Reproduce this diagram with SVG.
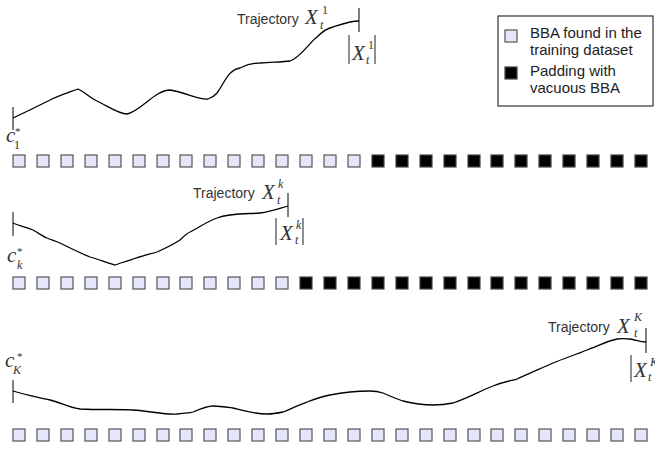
<svg xmlns="http://www.w3.org/2000/svg" xmlns:xlink="http://www.w3.org/1999/xlink" width="655" height="452" viewBox="0 0 655 452">
<style>
.lbl{font-family:"Liberation Sans",Arial,sans-serif;font-size:14px;fill:#333}
.leg{font-family:"Liberation Sans",Arial,sans-serif;font-size:15px;fill:#222}
.m{font-family:"Liberation Serif","Times New Roman",serif;font-style:italic;fill:#333;font-size:21px}
.sm{font-size:12px}
.st{font-size:11px;font-style:normal}
.up{font-style:normal}
.tr{fill:none;stroke:#000;stroke-width:1.3}
.tick{stroke:#555;stroke-width:1.5}
.bar{stroke:#444;stroke-width:1.2}
</style>
<defs>
<rect id="L" width="12" height="12" fill="#e6e6fa" stroke="#555" stroke-width="1.2"/>
<rect id="B" width="12" height="12" fill="#000" stroke="#444" stroke-width="1.2"/>
</defs>

<g id="legend">
<rect x="498" y="16" width="155" height="90" fill="#fff" stroke="#333" stroke-width="1.2"/>
<use xlink:href="#L" x="505" y="30"/>
<use xlink:href="#B" x="505" y="67"/>
<text class="leg" x="530" y="38">BBA found in the</text>
<text class="leg" x="530" y="55">training dataset</text>
<text class="leg" x="530" y="76">Padding with</text>
<text class="leg" x="530" y="93">vacuous BBA</text>
</g>

<g id="row1">
<use xlink:href="#L" x="13" y="155"/><use xlink:href="#L" x="37" y="155"/><use xlink:href="#L" x="61" y="155"/><use xlink:href="#L" x="85" y="155"/><use xlink:href="#L" x="109" y="155"/><use xlink:href="#L" x="133" y="155"/><use xlink:href="#L" x="157" y="155"/><use xlink:href="#L" x="180" y="155"/><use xlink:href="#L" x="204" y="155"/><use xlink:href="#L" x="228" y="155"/><use xlink:href="#L" x="252" y="155"/><use xlink:href="#L" x="276" y="155"/><use xlink:href="#L" x="300" y="155"/><use xlink:href="#L" x="324" y="155"/><use xlink:href="#L" x="348" y="155"/>
<use xlink:href="#B" x="372" y="155"/><use xlink:href="#B" x="396" y="155"/><use xlink:href="#B" x="420" y="155"/><use xlink:href="#B" x="444" y="155"/><use xlink:href="#B" x="468" y="155"/><use xlink:href="#B" x="491" y="155"/><use xlink:href="#B" x="515" y="155"/><use xlink:href="#B" x="539" y="155"/><use xlink:href="#B" x="563" y="155"/><use xlink:href="#B" x="587" y="155"/><use xlink:href="#B" x="611" y="155"/><use xlink:href="#B" x="635" y="155"/>
</g>

<g id="row2">
<use xlink:href="#L" x="13" y="277"/><use xlink:href="#L" x="37" y="277"/><use xlink:href="#L" x="61" y="277"/><use xlink:href="#L" x="85" y="277"/><use xlink:href="#L" x="109" y="277"/><use xlink:href="#L" x="133" y="277"/><use xlink:href="#L" x="157" y="277"/><use xlink:href="#L" x="180" y="277"/><use xlink:href="#L" x="204" y="277"/><use xlink:href="#L" x="228" y="277"/><use xlink:href="#L" x="252" y="277"/><use xlink:href="#L" x="276" y="277"/>
<use xlink:href="#B" x="300" y="277"/><use xlink:href="#B" x="324" y="277"/><use xlink:href="#B" x="348" y="277"/><use xlink:href="#B" x="372" y="277"/><use xlink:href="#B" x="396" y="277"/><use xlink:href="#B" x="420" y="277"/><use xlink:href="#B" x="444" y="277"/><use xlink:href="#B" x="468" y="277"/><use xlink:href="#B" x="491" y="277"/><use xlink:href="#B" x="515" y="277"/><use xlink:href="#B" x="539" y="277"/><use xlink:href="#B" x="563" y="277"/><use xlink:href="#B" x="587" y="277"/><use xlink:href="#B" x="611" y="277"/><use xlink:href="#B" x="635" y="277"/>
</g>

<g id="row3">
<use xlink:href="#L" x="13" y="429"/><use xlink:href="#L" x="37" y="429"/><use xlink:href="#L" x="61" y="429"/><use xlink:href="#L" x="85" y="429"/><use xlink:href="#L" x="109" y="429"/><use xlink:href="#L" x="133" y="429"/><use xlink:href="#L" x="157" y="429"/><use xlink:href="#L" x="180" y="429"/><use xlink:href="#L" x="204" y="429"/><use xlink:href="#L" x="228" y="429"/><use xlink:href="#L" x="252" y="429"/><use xlink:href="#L" x="276" y="429"/><use xlink:href="#L" x="300" y="429"/><use xlink:href="#L" x="324" y="429"/><use xlink:href="#L" x="348" y="429"/><use xlink:href="#L" x="372" y="429"/><use xlink:href="#L" x="396" y="429"/><use xlink:href="#L" x="420" y="429"/><use xlink:href="#L" x="444" y="429"/><use xlink:href="#L" x="468" y="429"/><use xlink:href="#L" x="491" y="429"/><use xlink:href="#L" x="515" y="429"/><use xlink:href="#L" x="539" y="429"/><use xlink:href="#L" x="563" y="429"/><use xlink:href="#L" x="587" y="429"/><use xlink:href="#L" x="611" y="429"/><use xlink:href="#L" x="635" y="429"/>
</g>

<g id="traj1">
<line class="tick" x1="13" y1="107" x2="13" y2="130"/>
<line class="tick" x1="359" y1="8" x2="359" y2="32"/>
<path class="tr" d="M13,118 C28,111 40,105 50,100 C60,95 70,92 78,89 C85,92 90,98 97,101 C108,106 118,114 127,114 C140,112 155,90 170,90 C185,92 198,100 208,99 C214,97 216,94 217,93 C225,82 228,70 240,68 C248,64 255,63 260,63 C275,62 283,62 290,61 C300,58 310,42 317,37 C322,32 328,28 333,27 C342,24 350,21 359,21"/>
<text class="lbl" x="237" y="24">Trajectory</text>
<text class="m" x="305" y="24">X<tspan class="sm up" x="322" y="14">1</tspan><tspan class="sm" x="320" y="29">t</tspan></text>
<line class="bar" x1="349" y1="35" x2="349" y2="64"/>
<line class="bar" x1="375" y1="35" x2="375" y2="64"/>
<text class="m" x="352" y="60">X<tspan class="sm up" x="368" y="49">1</tspan><tspan class="sm" x="366" y="64">t</tspan></text>
<text class="m" x="6" y="142">c<tspan class="st" x="15" y="135">*</tspan><tspan class="sm up" x="14" y="149">1</tspan></text>
</g>

<g id="trajk">
<line class="tick" x1="13" y1="212" x2="13" y2="236"/>
<line class="tick" x1="288" y1="193" x2="288" y2="217"/>
<path class="tr" d="M13,223 C20,226 28,228 33,230 C40,234 44,237 47,238 C52,240 56,241 60,243 C70,248 80,253 90,257 C100,260 108,263 115,265 C121,263 126,261 133,259 C142,256 150,254 157,252 C166,248 174,244 180,240 C184,236 187,233 190,232 C198,228 208,221 217,218 C230,213 248,214 260,213 C270,212 278,209 288,206"/>
<text class="lbl" x="193" y="198">Trajectory</text>
<text class="m" x="262" y="199">X<tspan class="sm" x="278" y="188">k</tspan><tspan class="sm" x="277" y="204">t</tspan></text>
<line class="bar" x1="276" y1="218" x2="276" y2="245"/>
<line class="bar" x1="303" y1="218" x2="303" y2="245"/>
<text class="m" x="280" y="240">X<tspan class="sm" x="296" y="229">k</tspan><tspan class="sm" x="295" y="244">t</tspan></text>
<text class="m" x="7" y="262">c<tspan class="st" x="17" y="255">*</tspan><tspan class="sm" x="17" y="269">k</tspan></text>
</g>

<g id="trajK">
<line class="tick" x1="13" y1="380" x2="13" y2="403"/>
<line class="tick" x1="646" y1="328" x2="646" y2="353"/>
<path class="tr" d="M13,391 C25,395 38,397 50,400 C62,403 70,408 80,409 C100,410 120,409 133,410 C150,411 165,415 177,414 C185,413 190,413 193,412 C200,409 207,406 213,406 C220,406 226,407 233,408 C245,411 255,414 267,414 C273,414 278,413 283,412 C292,409 300,404 307,402 C318,398 325,396 330,395 C340,393 355,391 370,391 C377,391 380,392 383,393 C392,397 397,399 403,401 C415,404 425,405 433,405 C443,405 448,404 453,403 C468,398 480,391 493,386 C503,382 510,381 517,379 C530,373 542,368 553,363 C565,358 575,355 587,350 C598,346 607,341 617,339 C623,338 627,339 630,339 C636,340 640,342 646,342"/>
<text class="lbl" x="548" y="332">Trajectory</text>
<text class="m" x="617" y="333">X<tspan class="sm" x="634" y="321">K</tspan><tspan class="sm" x="634" y="337">t</tspan></text>
<line class="bar" x1="631" y1="355" x2="631" y2="382"/>
<text class="m" x="634" y="377">X<tspan class="sm" x="650" y="366">K</tspan><tspan class="sm" x="648" y="381">t</tspan></text>
<text class="m" x="5" y="367">c<tspan class="st" x="17" y="360">*</tspan><tspan class="sm" x="13" y="374">K</tspan></text>
</g>
</svg>
